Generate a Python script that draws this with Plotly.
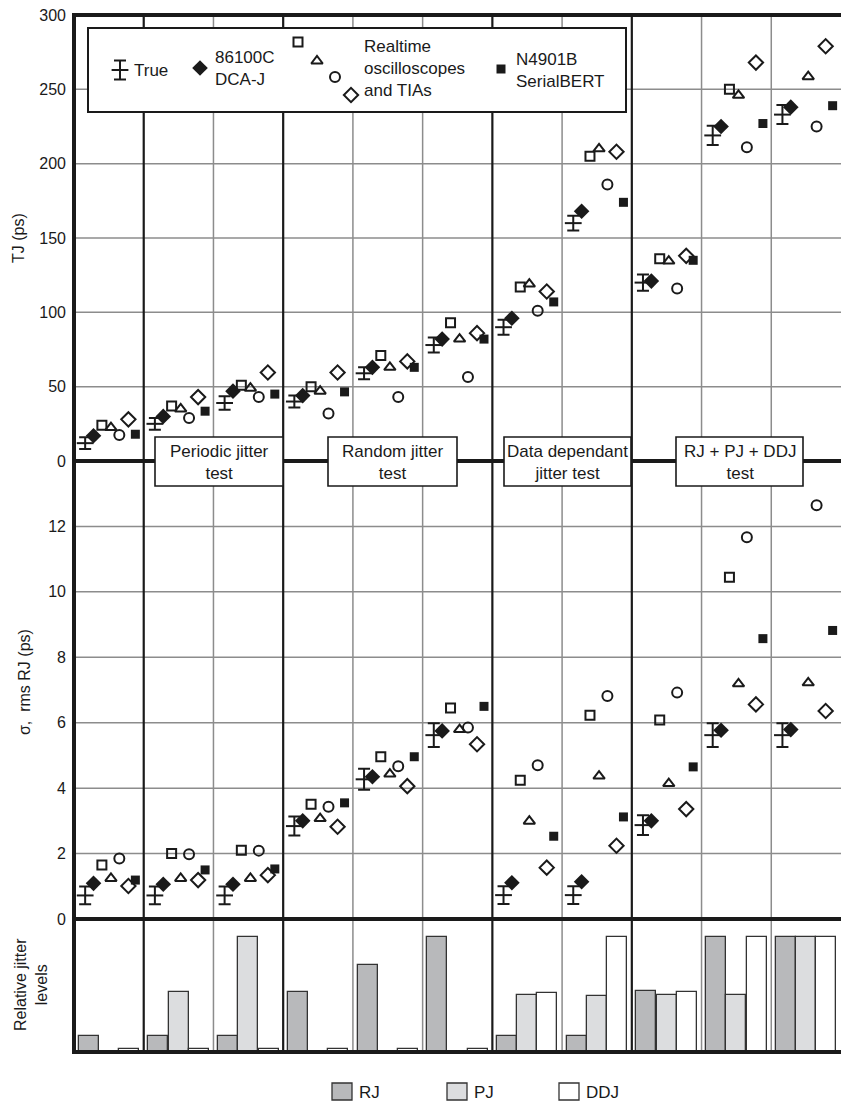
import plotly.graph_objects as go

# ---------------- data ----------------
columns = list(range(11))
true_tj = [12, 25, 39, 40, 59, 78, 90, 160, 120, 219, 233]
true_tj_err = [4, 4, 4.5, 4, 4, 5, 5, 5, 5.5, 6.5, 6.4]
dca_tj = [17, 30, 47, 44, 63, 82, 96, 168, 121, 225, 238]
rt_sq_tj = [24, 37, 51, 50, 71, 93, 117, 205, 136, 250, None]
rt_tri_tj = [22.5, 35, 49, 47, 63, 82, 119, 210, 134.5, 246, 258.5]
rt_circ_tj = [17.5, 29, 43, 32, 43, 56.5, 101, 186, 116, 211, 225]
rt_diam_tj = [28, 43, 59.5, 59.5, 67, 86, 114, 208, 138, 268, 279]
bert_tj = [18, 33.5, 45, 46.5, 63, 82, 107, 174, 135, 227, 239]

true_rj = [0.72, 0.72, 0.72, 2.84, 4.27, 5.62, 0.73, 0.73, 2.87, 5.62, 5.62]
true_rj_err = [0.27, 0.27, 0.27, 0.29, 0.32, 0.36, 0.27, 0.27, 0.3, 0.36, 0.36]
dca_rj = [1.09, 1.06, 1.06, 3.0, 4.35, 5.75, 1.11, 1.14, 3.0, 5.77, 5.79]
rt_sq_rj = [1.65, 2.0, 2.1, 3.51, 4.96, 6.45, 4.24, 6.23, 6.08, 10.45, None]
rt_tri_rj = [1.24, 1.24, 1.24, 3.07, 4.43, 5.79, 2.99, 4.37, 4.14, 7.19, 7.22]
rt_circ_rj = [1.85, 1.98, 2.09, 3.43, 4.67, 5.85, 4.70, 6.82, 6.92, 11.67, 12.65]
rt_diam_rj = [1.01, 1.19, 1.34, 2.82, 4.06, 5.34, 1.57, 2.24, 3.36, 6.56, 6.36]
bert_rj = [1.19, 1.5, 1.53, 3.55, 4.96, 6.5, 2.53, 3.12, 4.65, 8.57, 8.82]

rj_level = [0.14, 0.14, 0.14, 0.52, 0.76, 1.0, 0.14, 0.14, 0.53, 1.0, 1.0]
pj_level = [0, 0.52, 1.0, 0, 0, 0, 0.50, 0.49, 0.50, 0.50, 1.0]
ddj_level = [0.03, 0.03, 0.03, 0.03, 0.03, 0.03, 0.51, 1.0, 0.52, 1.0, 1.0]

tj_ticks = [0, 50, 100, 150, 200, 250, 300]
rj_ticks = [0, 2, 4, 6, 8, 10, 12]
group_labels = ["Periodic jitter<br>test", "Random jitter<br>test",
                "Data dependant<br>jitter test", "RJ + PJ + DDJ<br>test"]
group_bounds = [1, 3, 6, 8]

# ---------------- layout constants ----------------
W, H = 841, 1104
L, T, B = 74, 15, 52
PW, PH = W - L, H - T - B
FONT = "Liberation Sans, Arial, sans-serif"
INK = "#1a1a1a"
GRID = "#8c8c8c"
X_MAX = 11
TJ_MAX, RJ_MAX, LEV_MAX = 300, 14, 1.157


def px(xp):
    return (xp - L) / PW


def py(yp):
    return (H - B - yp) / PH


d_bar = py(919)
d_sig = py(461)

offs = [0.16, 0.28, 0.40, 0.53, 0.65, 0.78, 0.88]
bar_offs = [0.21, 0.50, 0.79]
bar_w = 0.287

fig = go.Figure()


def xs(k):
    return [c + offs[k] for c in columns]


def scatter(x, y, yaxis, symbol, size, xaxis="x", lw=2):
    fig.add_trace(go.Scatter(x=x, y=y, mode="markers", xaxis=xaxis, yaxis=yaxis,
                             marker=dict(symbol=symbol, size=size, color=INK,
                                         line=dict(width=lw, color=INK))))


def true_marks(x, y, err, xaxis, yaxis):
    fig.add_trace(go.Scatter(x=x, y=y, mode="markers", xaxis=xaxis, yaxis=yaxis,
                             marker=dict(symbol="line-ew", size=12, color=INK,
                                         line=dict(width=2, color=INK)),
                             error_y=dict(type="data", array=err, visible=True,
                                          thickness=2, width=6, color=INK)))


SYMS = [("diamond", 12, 0), ("square-open", 9, 2), ("triangle-up-open", 10, 2),
        ("circle-open", 10, 2), ("diamond-open", 11, 2), ("square", 9, 0)]

for yax, tru, err, series in [
        ("y", true_tj, true_tj_err, [dca_tj, rt_sq_tj, rt_tri_tj, rt_circ_tj, rt_diam_tj, bert_tj]),
        ("y2", true_rj, true_rj_err, [dca_rj, rt_sq_rj, rt_tri_rj, rt_circ_rj, rt_diam_rj, bert_rj])]:
    true_marks(xs(0), tru, err, "x", yax)
    for k, (vals, (sym, sz, lw)) in enumerate(zip(series, SYMS)):
        scatter(xs(k + 1), vals, yax, sym, sz, lw=lw)

bar_colors = ["#b8b9bb", "#dcdddf", "#ffffff"]
for k, lev in enumerate([rj_level, pj_level, ddj_level]):
    fig.add_trace(go.Bar(x=[c + bar_offs[k] for c in columns], y=lev, width=bar_w,
                         yaxis="y3", marker=dict(color=bar_colors[k],
                                                 line=dict(color="#333333", width=1.3))))

# legend glyphs on an overlay axis in pixel coordinates
true_marks([120], [70], [9.5], "x2", "y4")
legend_pos = [(200, 68), (298, 42), (317, 61), (335, 77), (351, 95), (501, 69)]
for (gx, gy), (sym, sz, lw) in zip(legend_pos, SYMS):
    scatter([gx], [gy], "y4", sym, sz, xaxis="x2", lw=lw)

shapes = []
# grid (drawn beneath traces)
for i in range(1, X_MAX):
    if i not in group_bounds:
        shapes.append(dict(type="line", xref="paper", yref="paper", x0=i / X_MAX, x1=i / X_MAX,
                           y0=0, y1=1, layer="below", line=dict(color=GRID, width=1.5)))
for v in tj_ticks[1:-1]:
    yy = d_sig + v / TJ_MAX * (1 - d_sig)
    shapes.append(dict(type="line", xref="paper", yref="paper", x0=0, x1=1, y0=yy, y1=yy,
                       layer="below", line=dict(color=GRID, width=1.5)))
for v in rj_ticks[1:]:
    yy = d_bar + v / RJ_MAX * (d_sig - d_bar)
    shapes.append(dict(type="line", xref="paper", yref="paper", x0=0, x1=1, y0=yy, y1=yy,
                       layer="below", line=dict(color=GRID, width=1.5)))
for i in group_bounds:
    shapes.append(dict(type="line", xref="paper", yref="paper", x0=i / X_MAX, x1=i / X_MAX,
                       y0=0, y1=1, layer="below", line=dict(color=INK, width=2.2)))
# legend box
shapes.append(dict(type="rect", xref="paper", yref="paper",
                   x0=px(88), x1=px(626), y0=py(112), y1=py(28), layer="below",
                   fillcolor="white", line=dict(color=INK, width=2)))
# thick frame lines
for yp in [15, 461, 919, 1052]:
    shapes.append(dict(type="line", xref="paper", yref="paper", x0=px(72), x1=1,
                       y0=py(yp), y1=py(yp), layer="above", line=dict(color=INK, width=4)))
shapes.append(dict(type="line", xref="paper", yref="paper", x0=px(74), x1=px(74),
                   y0=py(1054), y1=py(13), layer="above", line=dict(color=INK, width=4)))
# group label boxes
label_boxes = [(155, 283), (328, 457), (504, 631), (676, 803)]
annotations = []
for (x0, x1), txt in zip(label_boxes, group_labels):
    shapes.append(dict(type="rect", xref="paper", yref="paper", x0=px(x0), x1=px(x1),
                       y0=py(486), y1=py(437), layer="above",
                       fillcolor="white", line=dict(color=INK, width=1.6)))
    annotations.append(dict(x=px((x0 + x1) / 2), y=py(462), xref="paper", yref="paper",
                            text=txt, showarrow=False, font=dict(size=17, color=INK, family=FONT),
                            xanchor="center", yanchor="middle"))

# bottom legend boxes
for (bx, col, lab) in [(332, bar_colors[0], "RJ"), (447, bar_colors[1], "PJ"), (559, bar_colors[2], "DDJ")]:
    shapes.append(dict(type="rect", xref="paper", yref="paper", x0=px(bx), x1=px(bx + 20),
                       y0=py(1100), y1=py(1083), fillcolor=col, line=dict(color="#333333", width=1.3)))
    annotations.append(dict(x=px(bx + 25), y=py(1092), xref="paper", yref="paper", text=lab,
                            showarrow=False, xanchor="left", yanchor="middle",
                            font=dict(size=17, color=INK, family=FONT)))

# legend texts
for (lx, ly, txt) in [(132, 70, "True"), (213, 69, "86100C<br>DCA-J"),
                      (362, 68, "Realtime<br>oscilloscopes<br>and TIAs"),
                      (514, 70, "N4901B<br>SerialBERT")]:
    annotations.append(dict(x=px(lx), y=py(ly), xref="paper", yref="paper", text=txt,
                            showarrow=False, xanchor="left", yanchor="middle", align="left",
                            font=dict(size=17, color=INK, family=FONT)))

# axis titles
annotations.append(dict(x=-(L - 19) / PW, y=py(238), xref="paper", yref="paper", text="TJ (ps)",
                        textangle=-90, showarrow=False, xanchor="center", yanchor="middle",
                        font=dict(size=16, color=INK, family=FONT)))
annotations.append(dict(x=-(L - 24) / PW, y=py(682), xref="paper", yref="paper",
                        text="σ,  rms RJ (ps)", textangle=-90, showarrow=False,
                        xanchor="center", yanchor="middle", font=dict(size=16, color=INK, family=FONT)))
annotations.append(dict(x=-(L - 31) / PW, y=py(985), xref="paper", yref="paper",
                        text="Relative jitter<br>levels", textangle=-90, showarrow=False,
                        xanchor="center", yanchor="middle", font=dict(size=16, color=INK, family=FONT)))

tickfont = dict(size=16, color=INK, family=FONT)

fig.update_layout(
    width=W, height=H, margin=dict(l=L, r=0, t=T, b=B, pad=0),
    paper_bgcolor="white", plot_bgcolor="rgba(0,0,0,0)", showlegend=False,
    barmode="overlay", bargap=0,
    xaxis=dict(range=[0, X_MAX], domain=[0, 1], anchor="y3", visible=False,
               showgrid=False, zeroline=False),
    xaxis2=dict(range=[L, W], overlaying="x", anchor="y4", visible=False),
    yaxis=dict(domain=[d_sig, 1], range=[0, TJ_MAX], tickvals=tj_ticks, anchor="x",
               showgrid=False, zeroline=False,
               ticks="", ticklabelstandoff=7, tickfont=tickfont, showline=False),
    yaxis2=dict(domain=[d_bar, d_sig], range=[0, RJ_MAX], tickvals=rj_ticks, anchor="x",
                showgrid=False, zeroline=False,
                ticks="", ticklabelstandoff=7, tickfont=tickfont, showline=False),
    yaxis3=dict(domain=[0, d_bar], range=[0, LEV_MAX], anchor="x", showgrid=False,
                zeroline=False, showticklabels=False, ticks=""),
    yaxis4=dict(range=[461, 15], overlaying="y", anchor="x2", visible=False),
    shapes=shapes, annotations=annotations,
)

fig.write_html("out.html", config={"displayModeBar": False},
               post_script="document.body.style.margin='0';document.body.style.overflow='hidden';")
